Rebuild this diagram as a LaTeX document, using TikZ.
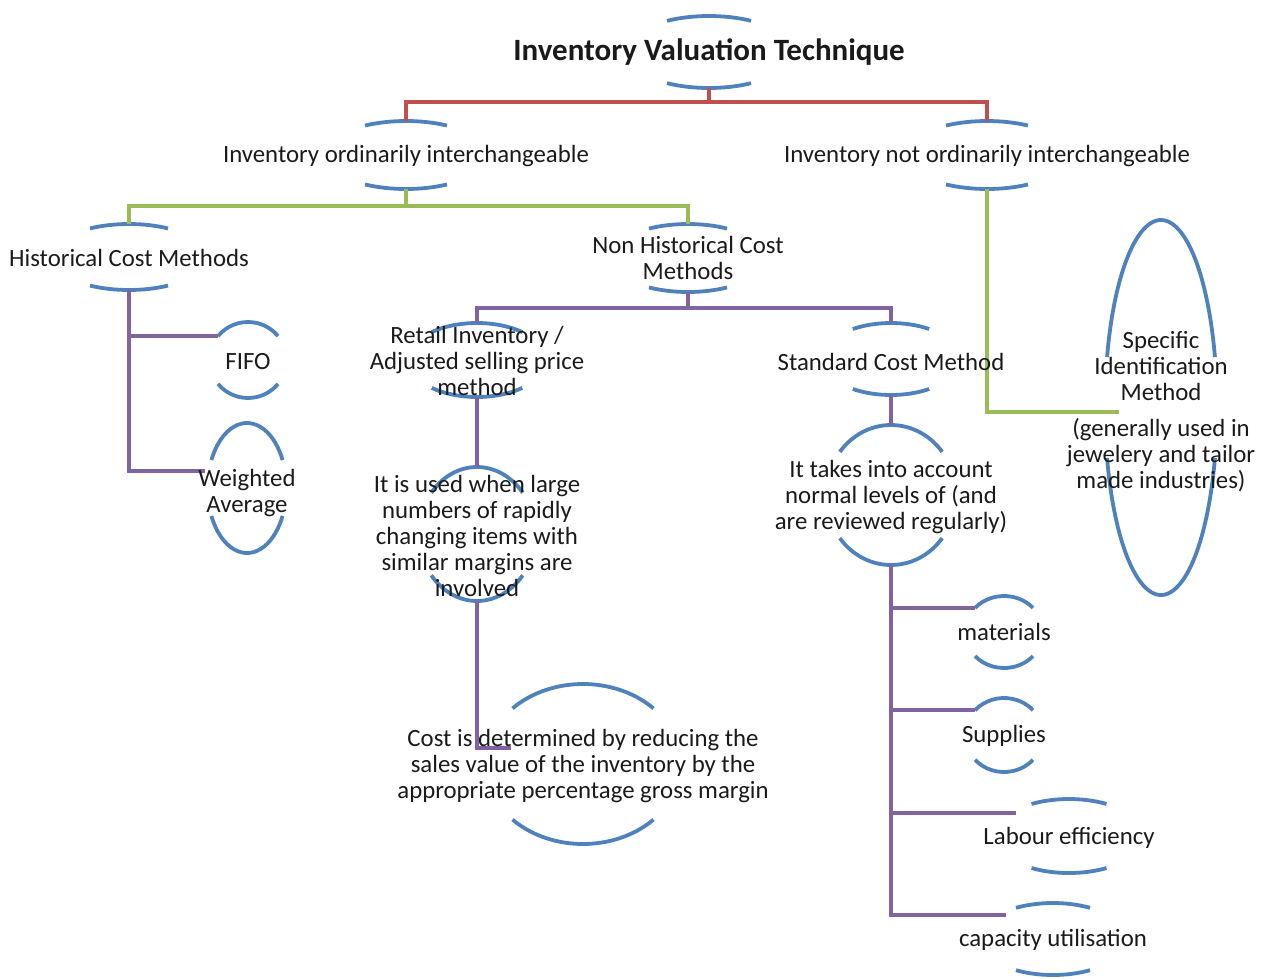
\documentclass[tikz,border=0pt]{standalone}
\usepackage{fontspec}
\setmainfont{Carlito}
\definecolor{arcblue}{HTML}{4F81BD}
\definecolor{cred}{HTML}{C0504D}
\definecolor{cgreen}{HTML}{9BBB59}
\definecolor{cpurple}{HTML}{8064A2}
\definecolor{txtc}{HTML}{1A1A1A}
\tikzset{
  arcl/.style={draw=arcblue, line width=3.8pt},
  conn/.style={line width=3.6pt},
  txt/.style={inner sep=0pt, align=center, text=txtc, yshift=-2pt, font=\fontsize{24.8}{26}\selectfont},
  ttl/.style={inner sep=0pt, align=center, text=txtc, yshift=-2pt, font=\fontsize{31}{34}\selectfont\bfseries},
}
% name, cx, cy (pixels, down), rx, ry, half angle from vertical
\newcommand\ovarcs[6]{%
  \path (#2,-#3) ++({90+#6}:#4pt and #5pt) coordinate (#1-tl);
  \path (#2,-#3) ++({270-#6}:#4pt and #5pt) coordinate (#1-bl);
  \coordinate (#1-t) at (#2,{-#3+#5});
  \coordinate (#1-b) at (#2,{-#3-#5});
  \draw[arcl] (#1-tl) arc[start angle={90+#6}, end angle={90-#6}, x radius=#4pt, y radius=#5pt];
  \draw[arcl] (#1-bl) arc[start angle={270-#6}, end angle={270+#6}, x radius=#4pt, y radius=#5pt];
}
\begin{document}
\begin{tikzpicture}[x=1pt,y=1pt]
\useasboundingbox (0,0) rectangle (1264,-978);

% arcs (node outlines) and anchor coordinates
\ovarcs{T}{709}{52}{84}{36}{30}
\ovarcs{A}{406}{155}{82}{34}{30}
\ovarcs{B}{987}{155}{82}{34}{30}
\ovarcs{H}{129}{257}{78}{33}{30}
\ovarcs{N}{688}{258}{78}{34}{30}
\ovarcs{F}{248}{360}{38.6}{38}{51}
\ovarcs{W}{247}{488}{39.4}{65}{64.5}
\ovarcs{R}{477}{360}{69}{37}{41}
\ovarcs{I}{477}{534}{58}{67}{52}
\ovarcs{C}{583}{764}{98}{80}{46}
\ovarcs{S}{891}{359}{69}{36}{33.6}
\ovarcs{K}{891}{495}{65}{70}{52}
\ovarcs{M}{1004}{632}{39}{36}{48}
\ovarcs{Sp}{1004}{735}{39}{37}{48}
\ovarcs{L}{1069}{836}{75}{37}{30}
\ovarcs{P}{1053}{939}{74}{36}{30}
\ovarcs{SI}{1161}{407.5}{56}{187.5}{74.4}

% free ends of connectors
\coordinate (Win) at (205,-471);
\coordinate (Cin) at (511,-748);
\coordinate (SIin) at (1119,-412);
\coordinate (Lin) at (1016,-813);
\coordinate (Pin) at (1006,-915);

% connectors
\draw[conn,cred] (T-b) -- ++(0,-14) -| (A-t);
\draw[conn,cred] (T-b) -- ++(0,-14) -| (B-t);
\draw[conn,cgreen] (A-b) -- ++(0,-17) -| (H-t);
\draw[conn,cgreen] (A-b) -- ++(0,-17) -| (N-t);
\draw[conn,cgreen] (B-b) |- (SIin);
\draw[conn,cpurple] (N-b) -- ++(0,-16) -| (R-t);
\draw[conn,cpurple] (N-b) -- ++(0,-16) -| (S-t);
\draw[conn,cpurple] (H-b) |- (Win);
\draw[conn,cpurple] (H-b |- F-tl) -- (F-tl);
\draw[conn,cpurple] (R-b) -- (I-t);
\draw[conn,cpurple] (I-b) |- (Cin);
\draw[conn,cpurple] (S-b) -- (K-t);
\draw[conn,cpurple] (K-b) |- (Pin);
\draw[conn,cpurple] (K-b |- M-tl) -- (M-tl);
\draw[conn,cpurple] (K-b |- Sp-tl) -- (Sp-tl);
\draw[conn,cpurple] (K-b |- Lin) -- (Lin);

% texts
\node[ttl] (title) at (709,-50) {Inventory Valuation Technique};
\node[txt] (ordi) at (406,-154) {Inventory ordinarily interchangeable};
\node[txt] (nordi) at (987,-154) {Inventory not ordinarily interchangeable};
\node[txt] (hist) at (129,-256) {Historical Cost Methods};
\node[txt] (nhist) at (688,-256) {Non Historical Cost\\Methods};
\node[txt] (fifo) at (248,-360) {FIFO};
\node[txt] (wavg) at (247,-491) {Weighted\\Average};
\node[txt] (retail) at (477,-359) {Retail Inventory /\\Adjusted selling price\\method};
\node[txt] (used) at (477,-534) {It is used when large\\numbers of rapidly\\changing items with\\similar margins are\\involved};
\node[txt] (cost) at (583,-764) {Cost is determined by reducing the\\sales value of the inventory by the\\appropriate percentage gross margin};
\node[txt] (std) at (891,-360) {Standard Cost Method};
\node[txt] (takes) at (891,-495) {It takes into account\\normal levels of (and\\are reviewed regularly)};
\node[txt] (mat) at (1004,-630) {materials};
\node[txt] (sup) at (1004,-734) {Supplies};
\node[txt] (lab) at (1069,-836) {Labour efficiency};
\node[txt] (cap) at (1053,-938) {capacity utilisation};
\node[txt] (spec) at (1161,-410) {Specific\\Identification\\Method\\[10pt](generally used in\\jewelery and tailor\\made industries)};
\end{tikzpicture}
\end{document}
